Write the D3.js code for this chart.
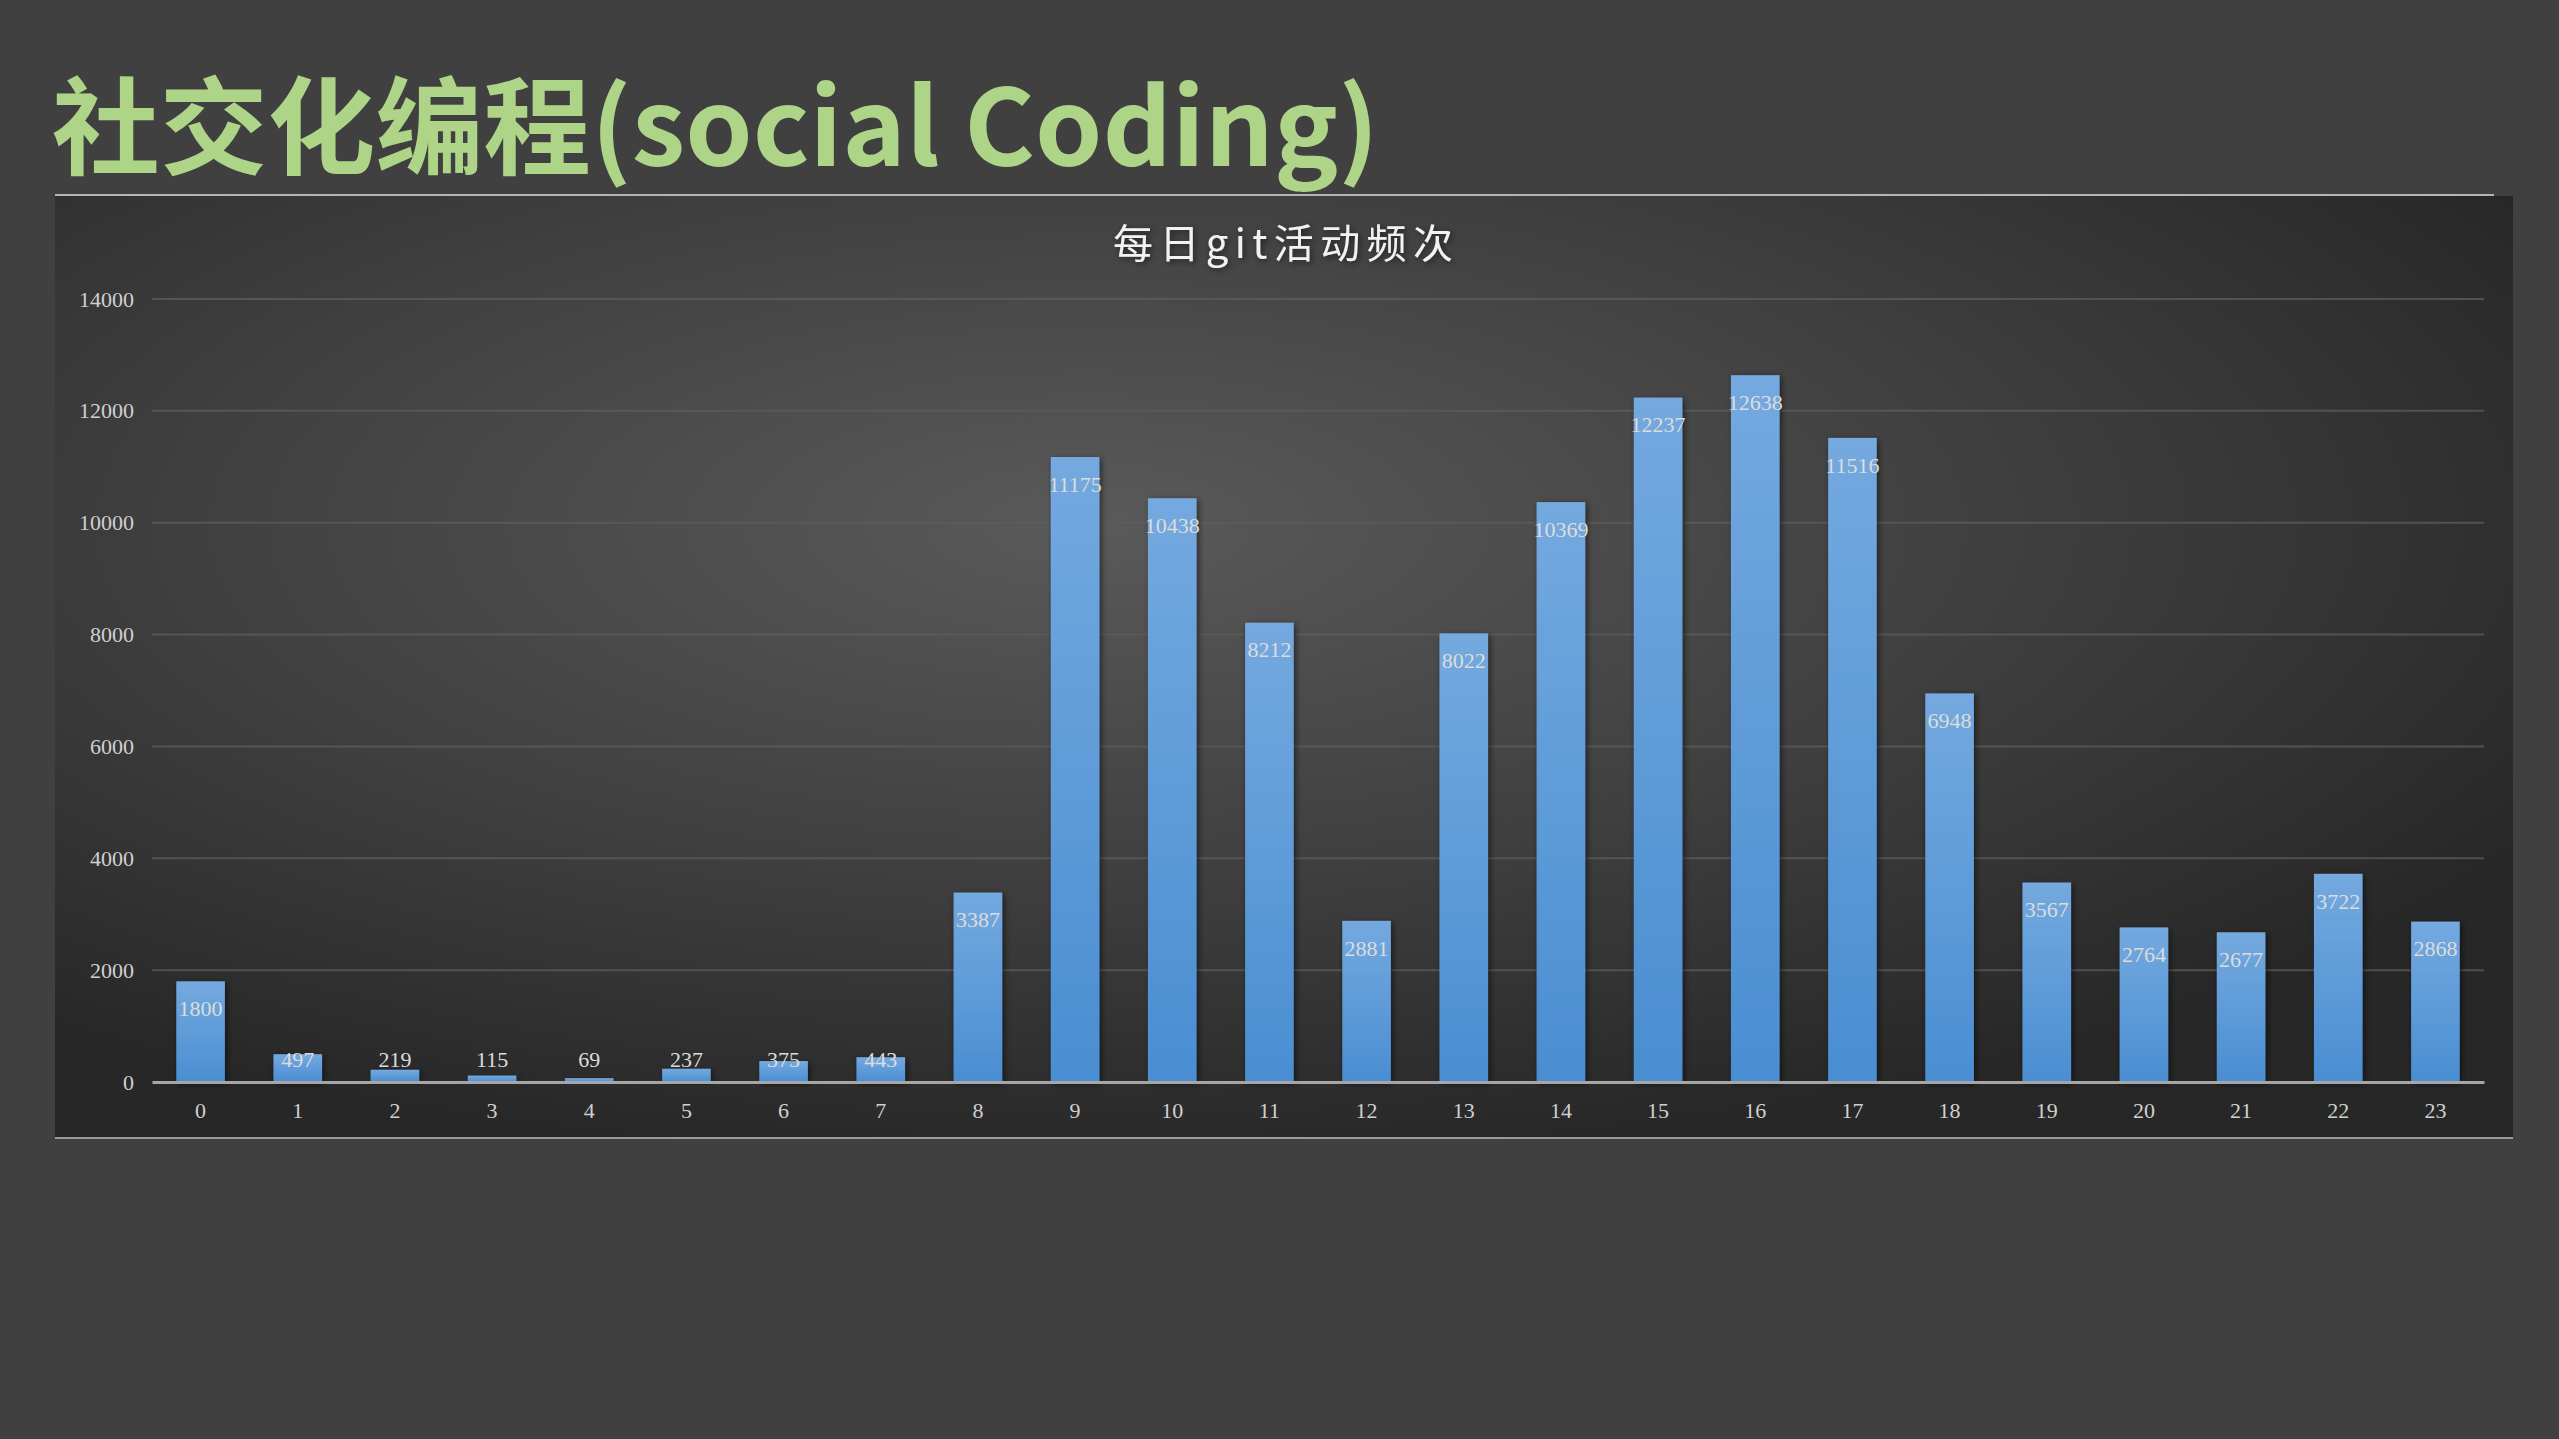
<!DOCTYPE html>
<html>
<head>
<meta charset="utf-8">
<script src="https://cdn.jsdelivr.net/npm/d3@7"></script>
<style>
  html, body { margin: 0; padding: 0; background: #404040; overflow: hidden; }
</style>
</head>
<body>
<div id="chart"></div>
<script>
// data
var hours = ["0","1","2","3","4","5","6","7","8","9","10","11","12","13","14","15","16","17","18","19","20","21","22","23"];
var counts = [1800, 497, 219, 115, 69, 237, 375, 443, 3387, 11175, 10438, 8212, 2881, 8022, 10369, 12237, 12638, 11516, 6948, 3567, 2764, 2677, 3722, 2868];
var yTicks = [0, 2000, 4000, 6000, 8000, 10000, 12000, 14000];
var pageTitle = "社交化编程(social Coding)";
var chartTitle = "每日git活动频次";

// setup
var W = 2559, H = 1439;
var plotLeft = 152, plotRight = 2484, plotTop = 299, plotBottom = 1082;

var svg = d3.select("#chart").append("svg")
    .attr("width", W)
    .attr("height", H);

var defs = svg.append("defs");

var bg = defs.append("radialGradient")
    .attr("id", "panelBg")
    .attr("cx", "42%").attr("cy", "35%").attr("r", "68%");
bg.append("stop").attr("offset", "0%").attr("stop-color", "#5a5a5a");
bg.append("stop").attr("offset", "55%").attr("stop-color", "#3f3f3f");
bg.append("stop").attr("offset", "100%").attr("stop-color", "#272727");

var barGrad = defs.append("linearGradient")
    .attr("id", "barGrad")
    .attr("x1", 0).attr("y1", 0).attr("x2", 0).attr("y2", 1);
barGrad.append("stop").attr("offset", "0%").attr("stop-color", "#74a9df");
barGrad.append("stop").attr("offset", "100%").attr("stop-color", "#4a8ed2");

var shadow = defs.append("filter").attr("id", "shadow")
    .attr("x", "-20%").attr("y", "-20%").attr("width", "140%").attr("height", "140%");
shadow.append("feDropShadow")
    .attr("dx", 2).attr("dy", 2).attr("stdDeviation", 3)
    .attr("flood-color", "#000").attr("flood-opacity", 0.55);

// page title
svg.append("text")
    .attr("x", 52)
    .attr("y", 166)
    .attr("textLength", 1327)
    .attr("lengthAdjust", "spacingAndGlyphs")
    .attr("font-family", "'Noto Sans CJK SC', 'Noto Sans', sans-serif")
    .attr("font-weight", 700)
    .attr("font-size", 106)
    .attr("fill", "#add487")
    .text(pageTitle);

// chart panel
svg.append("rect")
    .attr("x", 55).attr("y", 196)
    .attr("width", 2513 - 55).attr("height", 1138 - 196)
    .attr("fill", "url(#panelBg)");

svg.append("line")
    .attr("x1", 55).attr("x2", 2494)
    .attr("y1", 195).attr("y2", 195)
    .attr("stroke", "#b5b5b5").attr("stroke-width", 2);

svg.append("line")
    .attr("x1", 55).attr("x2", 2513)
    .attr("y1", 1138).attr("y2", 1138)
    .attr("stroke", "#9a9a9a").attr("stroke-width", 2);

// chart title
svg.append("text")
    .attr("x", 1283)
    .attr("y", 258)
    .attr("text-anchor", "middle")
    .attr("textLength", 340)
    .attr("lengthAdjust", "spacing")
    .attr("font-family", "'Noto Sans CJK SC', sans-serif")
    .attr("font-size", 40)
    .attr("fill", "#f2f2f2")
    .attr("filter", "url(#shadow)")
    .text(chartTitle);

// scales
var xScale = d3.scaleBand()
    .domain(hours)
    .range([plotLeft, plotRight])
    .paddingInner(0.5)
    .paddingOuter(0.25);

var yScale = d3.scaleLinear()
    .domain([0, 14000])
    .range([plotBottom, plotTop]);

// y axis with gridlines
var yAxis = svg.append("g")
    .attr("transform", "translate(" + plotLeft + ",0)")
    .call(d3.axisLeft(yScale).tickValues(yTicks).tickFormat(d3.format("d")).tickSize(0).tickPadding(18));
yAxis.select(".domain").remove();
yAxis.selectAll(".tick line").remove();
yAxis.selectAll(".tick text")
    .attr("font-family", "'Liberation Serif', serif")
    .attr("font-size", 22)
    .attr("fill", "#d0d0d0");

svg.append("g")
    .selectAll("line")
    .data(yTicks.filter(function (d) { return d > 0; }))
    .join("line")
    .attr("x1", plotLeft).attr("x2", plotRight)
    .attr("y1", function (d) { return yScale(d); })
    .attr("y2", function (d) { return yScale(d); })
    .attr("stroke", "#5e5e5e")
    .attr("stroke-opacity", 0.75)
    .attr("stroke-width", 2);

// bars
svg.append("g")
    .selectAll("rect")
    .data(counts)
    .join("rect")
    .attr("x", function (d, i) { return xScale(hours[i]); })
    .attr("y", function (d) { return yScale(d); })
    .attr("width", xScale.bandwidth())
    .attr("height", function (d) { return plotBottom - yScale(d); })
    .attr("fill", "url(#barGrad)")
    .attr("filter", "url(#shadow)");

// x axis
var xAxis = svg.append("g")
    .attr("transform", "translate(0," + plotBottom + ")")
    .call(d3.axisBottom(xScale).tickSize(0).tickPadding(20));
xAxis.select(".domain")
    .attr("stroke", "#a6a6a6")
    .attr("stroke-width", 3);
xAxis.selectAll(".tick text")
    .attr("font-family", "'Liberation Serif', serif")
    .attr("font-size", 22)
    .attr("fill", "#d0d0d0");

// data labels, inside end (pushed up when the bar is short)
svg.append("g")
    .selectAll("text")
    .data(counts)
    .join("text")
    .attr("x", function (d, i) { return xScale(hours[i]) + xScale.bandwidth() / 2; })
    .attr("y", function (d) { return Math.min(yScale(d) + 27, plotBottom - 23); })
    .attr("dy", "0.35em")
    .attr("text-anchor", "middle")
    .attr("font-family", "'Liberation Serif', serif")
    .attr("font-size", 22)
    .attr("fill", "#dcdcdc")
    .text(function (d) { return d; });
</script>
</body>
</html>
